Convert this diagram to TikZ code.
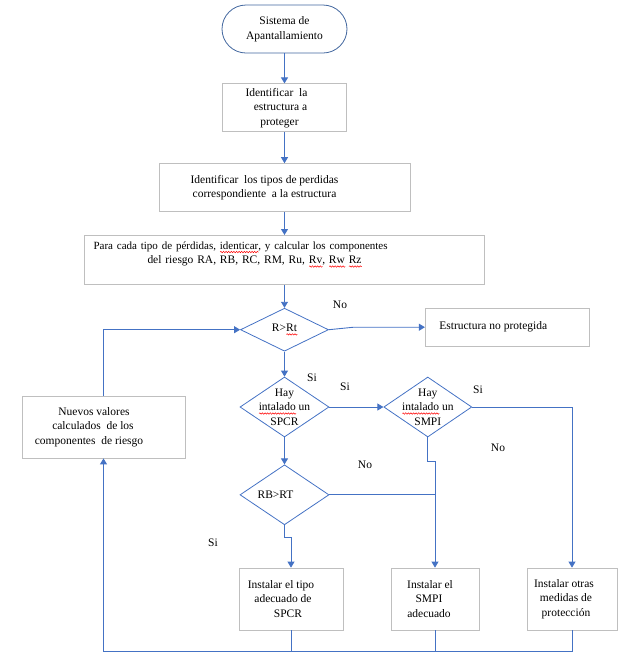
\documentclass[tikz,border=0pt]{standalone}
\usepackage{fontspec}
\setmainfont{Liberation Serif}
\usetikzlibrary{shapes.geometric,arrows.meta,positioning,decorations.pathmorphing}
\definecolor{flowblue}{HTML}{4472C4}
\definecolor{startblue}{HTML}{41669E}
\definecolor{boxgray}{HTML}{BFBFBF}
\newdimen\spelldim
\newcommand\spellmark[1]{\setbox0\hbox{#1}\spelldim=\wd0\rlap{\tikz[baseline=0pt]\draw[red, line width=0.5pt, decorate, decoration={snake, amplitude=0.7pt, segment length=2.6pt}] (0pt,-2.8pt) -- (\spelldim,-2.8pt);}\box0\relax}
\begin{document}
\begin{tikzpicture}[x=1pt, y=-1pt,
    every node/.style={font=\fontsize{11.5pt}{14.5pt}\selectfont, align=center},
    procbox/.style={draw=boxgray, line width=0.8pt, inner sep=0pt},
    decision/.style={draw=flowblue, diamond, line width=0.8pt, inner sep=0pt},
    flowline/.style={draw=flowblue, line width=0.9pt},
    flowarrow/.style={flowline, -{Triangle[length=6pt,width=7pt]}}]
    \useasboundingbox (0,0) rectangle (637,657);
    % main column
    \node[draw=startblue, line width=0.8pt, rounded corners=24pt, minimum width=125pt, minimum height=48pt] (start) at (284.5,29) {Sistema de\\Apantallamiento};
    \node[procbox, minimum width=124pt, minimum height=48pt, below=30pt of start] (ident) {Identificar\ \ la\kern16pt\\estructura a\kern8pt\\proteger\kern10pt};
    \node[procbox, minimum width=251pt, minimum height=48pt, below=31pt of ident] (tipos) {Identificar\ \ los tipos de perdidas\kern40pt\\correspondiente\ \ a la estructura\kern40pt};
    \node[procbox, minimum width=400pt, minimum height=49pt, text width=382pt, align=left, below=23pt of tipos] (calc) {{\fontsize{11pt}{14.5pt}\selectfont Para cada tipo de pérdidas, \spellmark{identicar}, y calcular los componentes}\\\hspace*{54pt}del riesgo RA, RB, RC, RM, Ru, \spellmark{Rv}, \spellmark{Rw} \spellmark{Rz}\\ \mbox{}};
    \node[decision, minimum width=88pt, minimum height=43pt, below=23pt of calc, label={center:{R>\spellmark{Rt}}}] (rt) {};
    \node[decision, minimum width=89pt, minimum height=60pt, below=25pt of rt, label={center:{Hay\\\spellmark{intalado} un\\SPCR}}] (spcr) {};
    \node[decision, minimum width=89pt, minimum height=60pt, below=27pt of spcr, label={[xshift=-9pt]center:{RB>RT}}] (rb) {};
    % side nodes
    \node[procbox, minimum width=164pt, minimum height=38pt, right=96pt of rt, yshift=2.5pt] (estr) {Estructura no protegida\kern28pt};
    \node[decision, minimum width=88pt, minimum height=60pt, right=54pt of spcr, label={center:{Hay\\\spellmark{intalado} un\\SMPI}}] (smpi) {};
    \node[procbox, minimum width=163pt, minimum height=62pt] (nuevos) at (103.5,427) {Nuevos valores\kern19pt\\calculados\ \ de los\kern21pt\\componentes\ \ de riesgo\kern29pt};
    \node[procbox, minimum width=104pt, minimum height=62pt] (spcrbox) at (291,599) {Instalar el tipo\kern20pt\\adecuado de\kern16pt\\SPCR\kern6pt};
    \node[procbox, minimum width=88pt, minimum height=62pt] (smpibox) at (435,599) {Instalar el\kern10pt\\SMPI\kern12pt\\adecuado\kern12pt};
    \node[procbox, minimum width=90pt, minimum height=62pt] (otrasbox) at (572,599) {Instalar otras\kern16pt\\medidas de\kern12pt\\protección\kern12pt};
    % labels
    \node (no1) at (340,305) {No};
    \node (si1) at (312,378) {Si};
    \node (si2) at (345,387) {Si};
    \node (si3) at (478,390) {Si};
    \node (no2) at (498,448) {No};
    \node (no3) at (365,465) {No};
    \node (si4) at (213,543) {Si};
    % connectors
    \draw[flowarrow] (start.south) -- (ident.north);
    \draw[flowarrow] (ident.south) -- (tipos.north);
    \draw[flowarrow] (tipos.south) -- (calc.north);
    \draw[flowarrow] (calc.south) -- (rt.north);
    \draw[flowarrow] (rt.east) -- ++(25,-2.5) -- (estr.west);
    \draw[flowarrow] (rt.south) -- (spcr.north);
    \draw[flowarrow] (spcr.east) -- (smpi.west);
    \draw[flowarrow] (spcr.south) -- (rb.north);
    \draw[flowarrow] (smpi.east) -| (otrasbox.north);
    \draw[flowarrow] (smpi.south) -- ++(0,24) -| (smpibox.north);
    \draw[flowline] (rb.east) -- (rb.east -| smpibox.north);
    \draw[flowarrow] (rb.south) -- ++(0,12) -| (spcrbox.north);
    \draw[flowline] (spcrbox.south) -- ++(0,21);
    \draw[flowline] (smpibox.south) -- ++(0,21);
    \draw[flowarrow] (otrasbox.south) -- ++(0,21) -| (nuevos.south);
    \draw[flowarrow] (nuevos.north) |- (rt.west);
\end{tikzpicture}
\end{document}
